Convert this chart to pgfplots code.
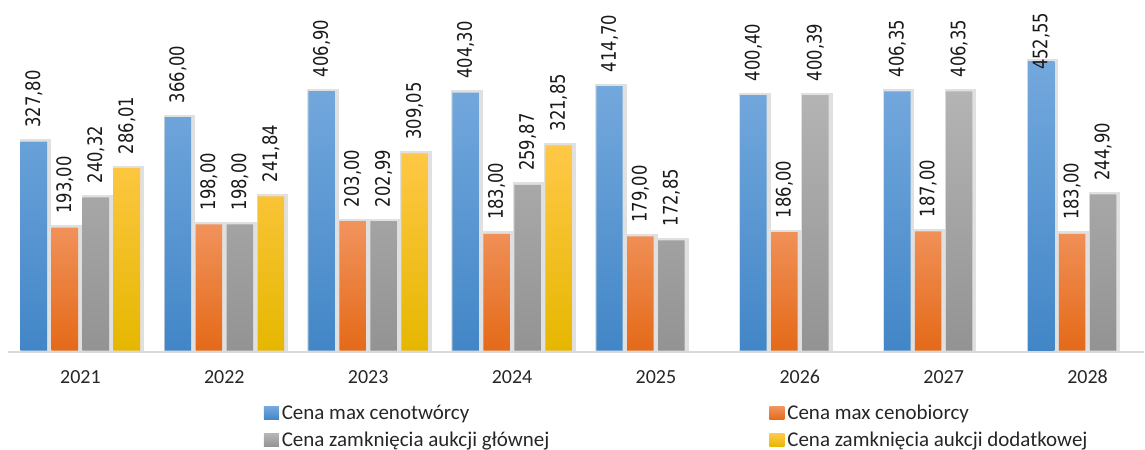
\documentclass[border=0pt]{standalone}
\usepackage{graphicx}
\usepackage{pgfplots}
\pgfplotsset{compat=1.18}
\usepackage{pgfplotstable}
\usepackage{fontspec}
\setmainfont{Carlito}
\newfontfamily\lblfont[FakeStretch=0.82]{DejaVu Sans}

\definecolor{bluetop}{RGB}{115,168,221}
\definecolor{bluebot}{RGB}{66,134,199}
\definecolor{orgtop}{RGB}{241,147,93}
\definecolor{orgbot}{RGB}{228,106,24}
\definecolor{graytop}{RGB}{180,180,180}
\definecolor{graybot}{RGB}{147,147,147}
\definecolor{yeltop}{RGB}{255,200,72}
\definecolor{yelmid}{RGB}{255,192,0}
\definecolor{yelbot}{RGB}{230,183,0}
\definecolor{axgray}{RGB}{217,217,217}

\pgfplotstableread{
x y lbl
0 327.80 327,80
1 366.00 366,00
2 406.90 406,90
3 404.30 404,30
4 414.70 414,70
5 400.40 400,40
6 406.35 406,35
}\blueA
\pgfplotstableread{
x y lbl
7 452.55 452,55
}\blueB
\pgfplotstableread{
x y lbl
0 193.00 193,00
1 198.00 198,00
2 203.00 203,00
3 183.00 183,00
4 179.00 179,00
5 186.00 186,00
6 187.00 187,00
7 183.00 183,00
}\orange
\pgfplotstableread{
x y lbl
0 240.32 240,32
1 198.00 198,00
2 202.99 202,99
3 259.87 259,87
4 172.85 172,85
5 400.39 400,39
6 406.35 406,35
7 244.90 244,90
}\gray
\pgfplotstableread{
x y lbl
0 286.01 286,01
1 241.84 241,84
2 309.05 309,05
3 321.85 321,85
}\yellow

\pgfplotsset{
  mybar/.style={ybar, bar width=13.25pt, draw=none,
    legend image code/.code={\path[##1] (0pt,-3.25pt) rectangle (7.5pt,3.25pt);}},
  shadowbar/.style={ybar, bar width=13.25pt, fill=black!12, draw=black!12, line width=2.5pt, forget plot},
  lblplot/.style={forget plot, draw=none, mark=none, point meta=explicit symbolic,
    nodes near coords={\rotatebox{90}{\pgfplotspointmeta}},
    nodes near coords align=vertical,
    every node near coord/.style={font=\lblfont\fontsize{10}{12}\selectfont, text=black!90,
      anchor=south, inner ysep=#1, inner xsep=0pt, outer sep=0pt}},
  lblplot/.default=7pt,
}

\begin{document}
\begin{tikzpicture}
\begin{axis}[
  scale only axis, width=572.5pt, height=175.5pt,
  xmin=-0.559, xmax=7.392, ymin=0, ymax=549.6,
  enlargelimits=false, clip=false,
  axis line style={draw=none},
  ytick=\empty,
  xtick={0,...,7}, xticklabels={2021,2022,2023,2024,2025,2026,2027,2028},
  major tick length=0pt, xtick style={draw=none},
  xticklabel style={font=\fontsize{10}{12}\selectfont, text=black!85, inner sep=0pt, anchor=north, yshift=-9.6pt},
  legend columns=2,
  legend cell align=left,
  legend style={at={(0.2306,-0.153)}, anchor=north west, draw=none, fill=none,
    inner sep=0pt, outer sep=0pt, row sep=4.5pt,
    font=\fontsize{10.5}{12}\selectfont, text=black!85,
    nodes={inner sep=0pt, text height=7.5pt, text depth=1.5pt},
    /tikz/every odd column/.append style={column sep=1.5pt}},
]
% shadows
\addplot[shadowbar, bar shift=-22.5pt] table[x=x,y=y]{\blueA};
\addplot[shadowbar, bar shift=-22.5pt] table[x=x,y=y]{\blueB};
\addplot[shadowbar, bar shift=-7pt] table[x=x,y=y]{\orange};
\addplot[shadowbar, bar shift=8.5pt] table[x=x,y=y]{\gray};
\addplot[shadowbar, bar shift=24pt] table[x=x,y=y]{\yellow};
% bars
\addplot[mybar, bar shift=-23.25pt, top color=bluetop, bottom color=bluebot] table[x=x,y=y]{\blueA};
\addlegendentry{\makebox[244pt][l]{Cena max cenotwórcy}}
\addplot[mybar, bar shift=-7.75pt, top color=orgtop, bottom color=orgbot] table[x=x,y=y]{\orange};
\addlegendentry{Cena max cenobiorcy}
\addplot[mybar, bar shift=7.75pt, top color=graytop, bottom color=graybot] table[x=x,y=y]{\gray};
\addlegendentry{\makebox[244pt][l]{Cena zamknięcia aukcji głównej}}
\addplot[mybar, bar shift=23.25pt, top color=yeltop, middle color=yelmid, bottom color=yelbot] table[x=x,y=y]{\yellow};
\addlegendentry{Cena zamknięcia aukcji dodatkowej}
\addplot[mybar, forget plot, bar shift=-23.25pt, top color=bluetop, bottom color=bluebot] table[x=x,y=y]{\blueB};
\draw[axgray, line width=1pt] ([yshift=-0.5pt]axis cs:-0.5,0) -- ([yshift=-0.5pt]axis cs:7.392,0);
% value labels
\addplot[lblplot] table[x expr=\thisrow{x}-0.3229, y=y, meta=lbl]{\blueA};
\addplot[lblplot=-4pt] table[x expr=\thisrow{x}-0.3229, y=y, meta=lbl]{\blueB};
\addplot[lblplot] table[x expr=\thisrow{x}-0.1076, y=y, meta=lbl]{\orange};
\addplot[lblplot] table[x expr=\thisrow{x}+0.1076, y=y, meta=lbl]{\gray};
\addplot[lblplot] table[x expr=\thisrow{x}+0.3229, y=y, meta=lbl]{\yellow};
\end{axis}
\end{tikzpicture}
\end{document}
